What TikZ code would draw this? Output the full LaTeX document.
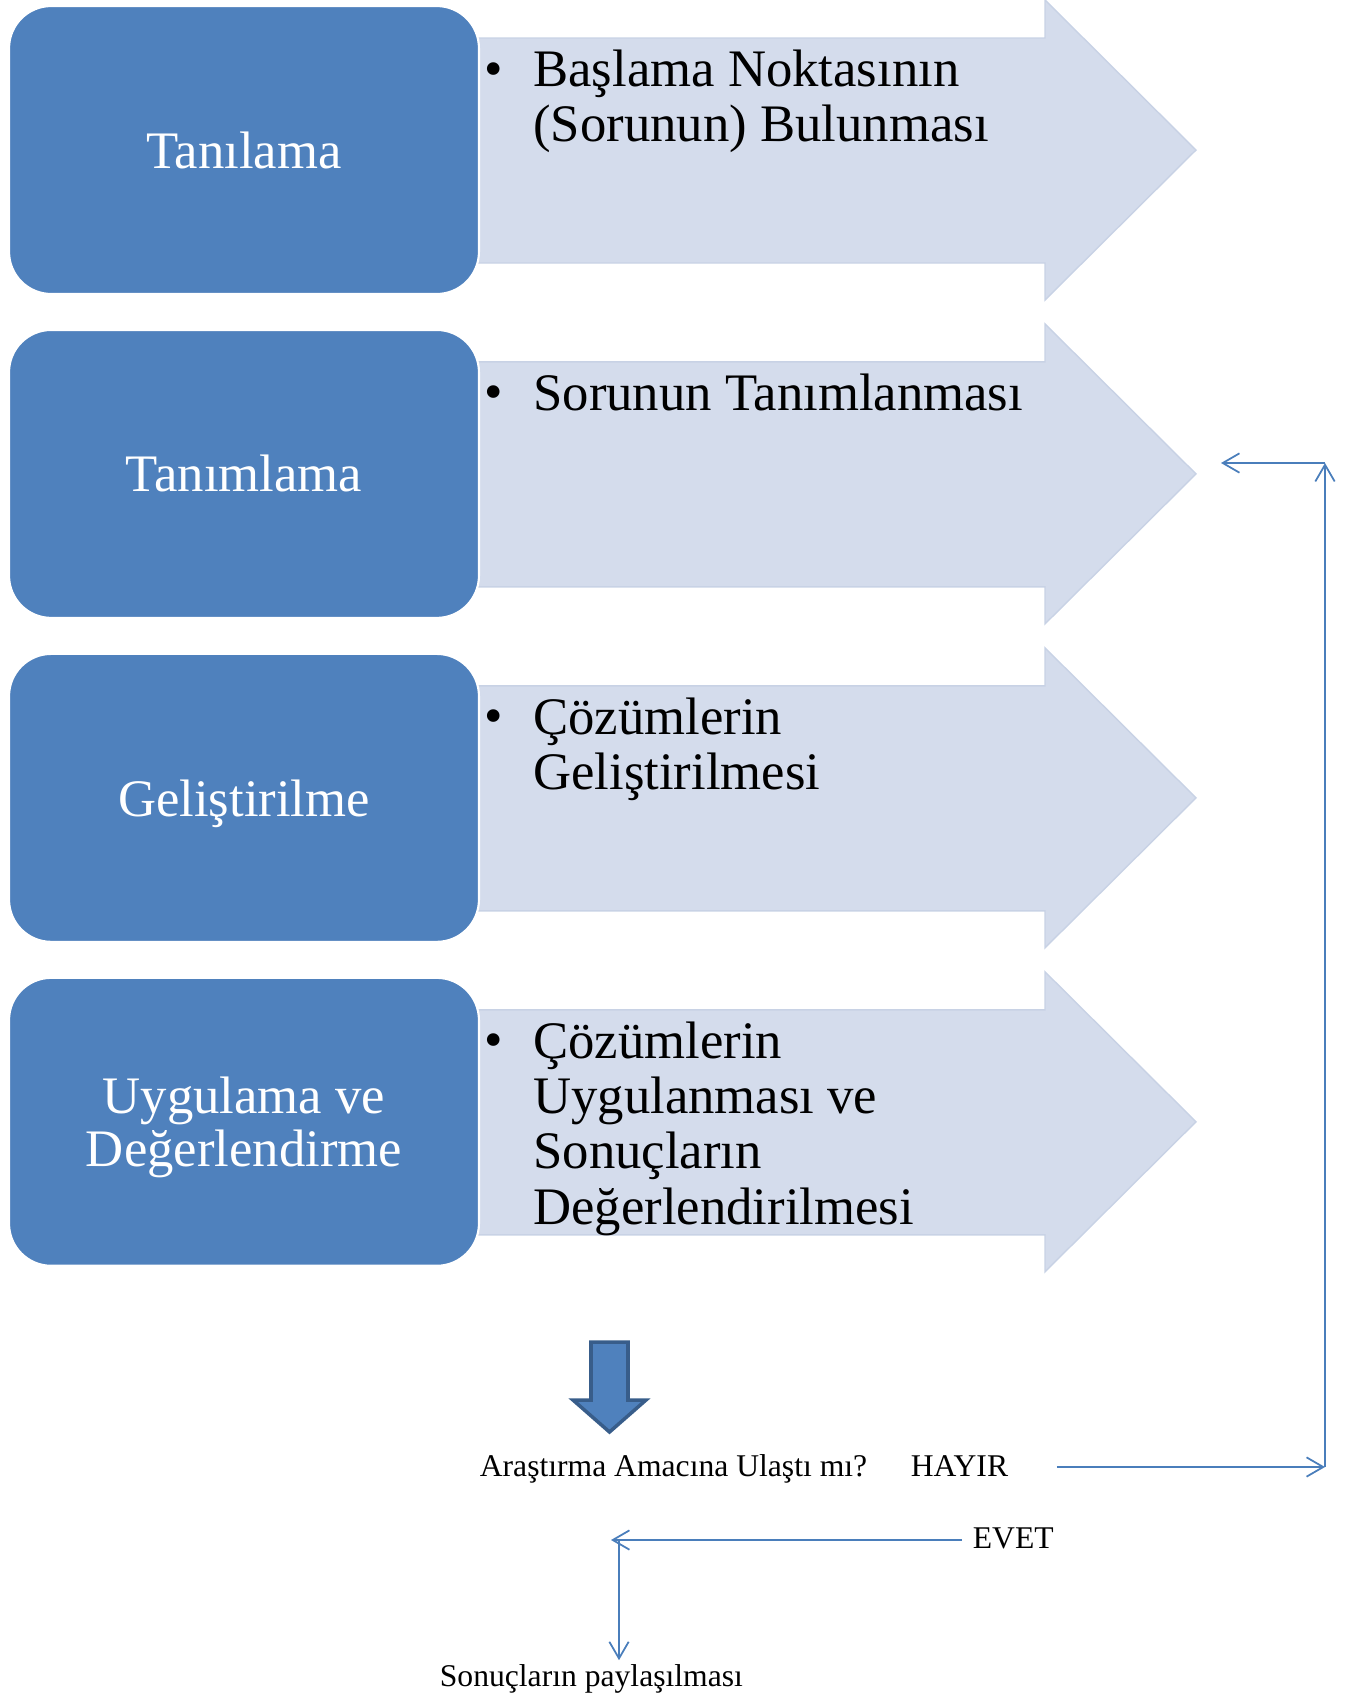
\documentclass[tikz,border=0pt]{standalone}
\usepackage{fontspec}
\setmainfont{Liberation Serif}
\usetikzlibrary{arrows.meta}
\definecolor{stepB}{RGB}{79,129,189}
\definecolor{stepL}{RGB}{212,220,236}
\definecolor{stepE}{RGB}{200,210,229}
\definecolor{stepD}{RGB}{56,93,138}
\definecolor{lineB}{RGB}{74,126,187}

\begin{document}
\begin{tikzpicture}[x=0.02cm,y=-0.02cm,>={Straight Barb[length=9.5pt,width=11pt]},
  stepbox/.style={draw=white,line width=1.2pt,fill=stepB,rounded corners=24pt,minimum width=9.4cm,minimum height=5.76cm},
  steplabel/.style={text=white,align=center,font=\fontsize{30}{30.6}\selectfont},
  stepnote/.style={anchor=north west,inner sep=0pt,align=left,font=\fontsize{30}{31.5}\selectfont},
  small/.style={anchor=base west,inner sep=2pt,font=\fontsize{18}{21}\selectfont},
  conn/.style={lineB,line width=1pt}]
\useasboundingbox (0,0) rectangle (1351,1695);
% chevron rows with their step boxes
\foreach \i/\lab/\dy in {0/Tanılama/0,1/Tanımlama/0,2/Geliştirilme/-0.11,3/{Uygulama ve\\Değerlendirme}/-0.11}{
  \begin{scope}[yshift=-\i*6.48cm]
    \filldraw[fill=stepL,draw=stepE,line width=0.8pt] (470,38)--(1045,38)--(1045,0)--(1196,150)--(1045,300)--(1045,263)--(470,263)--cycle;
    \node[stepbox] (box\i) at (244,150) {};
    \node[steplabel,yshift=\dy cm] (lab\i) at (box\i.center) {\lab};
    \node[anchor=base west,inner sep=0pt,font=\fontsize{30}{31.5}\selectfont] (dot\i) at (484,86) {\textbullet};
  \end{scope}
}
\node[stepnote] (note0) at (533,47) {\strut Başlama Noktasının\\(Sorunun) Bulunması};
\node[stepnote] (note1) at (533,371) {\strut Sorunun Tanımlanması};
\node[stepnote] (note2) at (533,695) {\strut Çözümlerin\\Geliştirilmesi};
\node[stepnote] (note3) at (533,1019) {\strut Çözümlerin\\Uygulanması ve\\Sonuçların\\Değerlendirilmesi};
% block arrow down
\filldraw[fill=stepB,draw=stepD,line width=2pt] (591,1342)--(628,1342)--(628,1400)--(646,1400)--(609.5,1432)--(573,1400)--(591,1400)--cycle;
% question and answers
\node[small] (ask) at (476,1476) {Araştırma Amacına Ulaştı mı?};
\node[small] (hayir) at (907,1476) {HAYIR};
\node[small] (evet) at (969,1548) {EVET};
\node[small] (share) at (436,1686) {Sonuçların paylaşılması};
\coordinate (noR) at (1325,1467);
\coordinate (noT) at (1325,463);
\coordinate (noL) at (1221,463);
\coordinate (yesL) at (611,1540);
\coordinate (yesD) at (619,1540);
\draw[conn,->] ([xshift=0.9cm]hayir.east |- noR) -- (noR);
\draw[conn,->] (noR) -- (noT);
\draw[conn,->] (noT) -- (noL);
\draw[conn,->] ([xshift=-0.14cm]evet.west |- yesL) -- (yesL);
\draw[conn,->] (yesD) -- (yesD |- share.north);
\end{tikzpicture}
\end{document}
